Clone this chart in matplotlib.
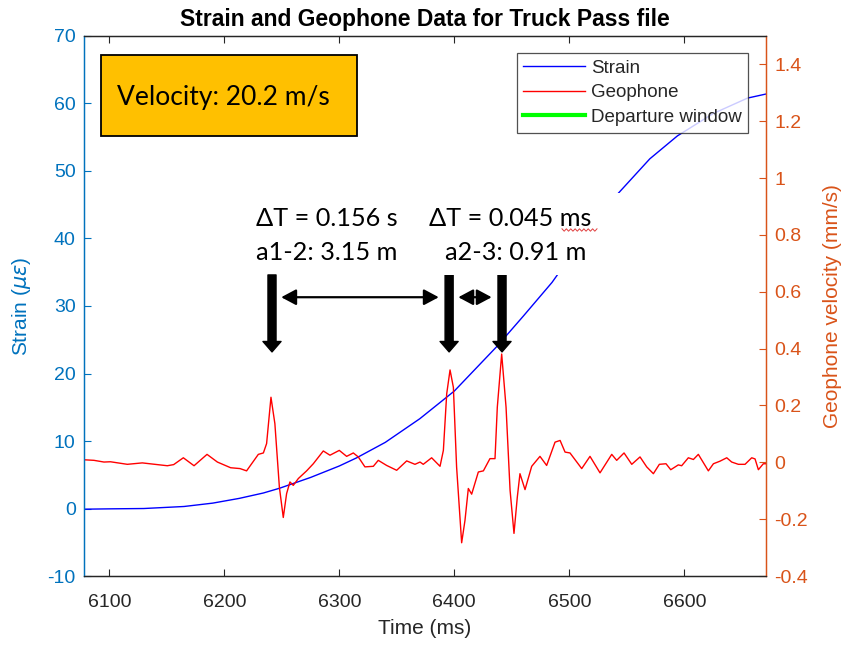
import matplotlib.pyplot as plt
from matplotlib.patches import Rectangle
from matplotlib.lines import Line2D
import numpy as np

# strain gauge (left axis)
strain_t = [6078, 6100, 6130, 6165, 6190, 6213, 6234, 6248, 6275, 6300, 6315,
            6340, 6370, 6400, 6437, 6460, 6485, 6510, 6541, 6570, 6594, 6625,
            6655, 6671]
strain_val = [-0.1, -0.05, 0.0, 0.3, 0.8, 1.5, 2.3, 3.0, 4.6, 6.3, 7.5,
              9.8, 13.3, 17.4, 24.0, 28.5, 33.5, 39.5, 46.4, 51.8, 55.2, 58.5,
              60.8, 61.4]

# geophone velocity (right axis)
geo_t = [6078, 6086.7, 6095.4, 6101, 6115.7, 6128.7, 6150.5, 6156, 6164.4, 6173.7,
         6185, 6194, 6205.5, 6213.7, 6219.4, 6229.6, 6234, 6236.8, 6240.6, 6244,
         6247.9, 6251.3, 6254.2, 6257.1, 6260, 6264.4, 6271.6, 6277.4, 6286.1,
         6291.9, 6300, 6306.4, 6312.2, 6316.5, 6322.3, 6329.6, 6333.9, 6341.2,
         6349.9, 6358.6, 6365.8, 6370.2, 6373, 6380.3, 6387.6, 6390.5, 6393.4,
         6396.3, 6399.2, 6402, 6406.4, 6409.3, 6412.2, 6415.1, 6420.9, 6425.3,
         6431, 6435.4, 6437.4, 6441.2, 6445, 6448.5, 6451.9, 6454.8, 6457.1,
         6461.5, 6467.3, 6474.5, 6480.3, 6487.6, 6492, 6496.3, 6500.6, 6510.8,
         6518, 6526.7, 6536.9, 6541.2, 6547.6, 6554.3, 6561.5, 6567.3, 6573.1,
         6578.3, 6584.1, 6588.2, 6594.8, 6597.7, 6603.5, 6607.9, 6612.2, 6620.9,
         6625.3, 6631, 6636.9, 6641.2, 6647, 6652.8, 6658.6, 6661.5, 6664.4,
         6668.7, 6671]
geo_val = [0.009, 0.007, 0.001, 0.002, -0.007, -0.002, -0.012, -0.008, 0.016, -0.012,
           0.028, 0.001, -0.019, -0.022, -0.030, 0.028, 0.033, 0.066, 0.229, 0.136,
           -0.087, -0.194, -0.110, -0.069, -0.081, -0.057, -0.030, -0.005, 0.040,
           0.025, 0.042, 0.021, 0.033, 0.019, -0.016, -0.014, 0.007, -0.011,
           -0.028, 0.005, -0.007, 0.001, -0.007, 0.016, -0.014, 0.042, 0.241,
           0.325, 0.264, -0.016, -0.283, -0.204, -0.092, -0.112, -0.034, -0.030,
           0.013, 0.013, 0.194, 0.381, 0.194, -0.098, -0.250, -0.122, -0.040,
           -0.096, -0.014, 0.021, -0.011, 0.071, 0.077, 0.036, 0.033, -0.022,
           0.021, -0.037, 0.028, 0.007, 0.033, -0.007, 0.019, -0.016, -0.040,
           -0.007, -0.005, -0.026, -0.009, -0.012, 0.016, 0.010, 0.028, -0.030,
           -0.005, 0.004, 0.016, 0.001, -0.007, -0.007, 0.016, 0.012, -0.026,
           -0.005, -0.005]

# axle arrival picks (ms) and annotation text
axle_t = [6241.5, 6395.5, 6441.5]
dt_labels = ["\u0394T = 0.156 s", "\u0394T = 0.045 ms"]
dist_labels = ["a1-2: 3.15 m", "a2-3: 0.91 m"]
velocity_label = "Velocity: 20.2 m/s"

left_c = "#0072BD"
right_c = "#D95319"
grey = "#262626"

plt.rcParams['font.family'] = ['Liberation Sans', 'DejaVu Sans']
plt.rcParams['axes.unicode_minus'] = False

fig = plt.figure(figsize=(8.49, 6.47), dpi=100)
ax = fig.add_axes([0.0989, 0.1097, 0.8033, 0.8347])
ax2 = ax.twinx()

l1, = ax.plot(strain_t, strain_val, color="#0000FF", lw=1.0, label="Strain")
l2, = ax2.plot(geo_t, geo_val, color="#FF0000", lw=1.0, label="Geophone")
l3, = ax2.plot([], [], color="#00FF00", lw=3, label="Departure window")

ax.set_xlim(6078, 6671)
ax.set_ylim(-10, 70)
ax2.set_ylim(-0.4, 1.5)

ax.set_xticks(np.arange(6100, 6700, 100))
ax.set_yticks(np.arange(-10, 80, 10))
r_ticks = np.arange(-0.4, 1.41, 0.2)
ax2.set_yticks(r_ticks)
ax2.set_yticklabels(["%g" % round(v, 1) for v in r_ticks])

ax.tick_params(axis='x', direction='in', top=True, length=5, width=0.8,
               colors=grey, labelsize=14, pad=13)
ax.tick_params(axis='y', direction='in', length=5, width=0.8, colors=left_c,
               labelsize=14, pad=6)
ax2.tick_params(axis='y', direction='in', length=5, width=0.8, colors=right_c,
                labelsize=14, pad=6)
for a in (ax, ax2):
    a.spines['top'].set_color(grey)
    a.spines['bottom'].set_color(grey)
    a.spines['left'].set_color(left_c)
    a.spines['right'].set_color(right_c)
    for s in a.spines.values():
        s.set_linewidth(0.9)

ax.set_xlabel("Time (ms)", fontsize=15, color=grey, labelpad=6)
ax.set_ylabel("Strain ($\\mu\\epsilon$)", fontsize=15, color=left_c, labelpad=10)
ax2.set_ylabel("Geophone velocity (mm/s)", fontsize=15, color=right_c, labelpad=11)
ax.set_title("Strain and Geophone Data for Truck Pass file", fontsize=16.5,
             fontweight='bold', pad=7)

leg = ax2.legend(handles=[l1, l2, l3], loc='upper right',
                 bbox_to_anchor=(748 / 849, 1 - 53 / 647),
                 bbox_transform=fig.transFigure, borderaxespad=0,
                 fontsize=13.5, handlelength=3.3, handletextpad=0.3,
                 labelspacing=0.4, borderpad=0.35, fancybox=False,
                 frameon=True, edgecolor=grey)
leg.get_frame().set_linewidth(0.9)
for t in leg.get_texts():
    t.set_color(grey)

# axle arrows
arrow_top, arrow_tip, span_y = 34.6, 23.2, 31.3
for t in axle_t:
    ax.annotate("", xy=(t, arrow_tip), xytext=(t, arrow_top),
                arrowprops=dict(arrowstyle="simple,head_length=0.75,head_width=1.3,tail_width=0.58",
                                color="black", shrinkA=0, shrinkB=0, mutation_scale=10),
                zorder=6)
for a, b in zip(axle_t[:-1], axle_t[1:]):
    ax.annotate("", xy=(a + 8, span_y), xytext=(b - 9, span_y),
                arrowprops=dict(arrowstyle="<|-|>,head_length=0.6,head_width=0.32",
                                color="black", lw=1.6, shrinkA=0, shrinkB=0,
                                mutation_scale=15),
                zorder=6)

# text boxes drawn over the plot
W, H = 849, 647
fig.add_artist(Rectangle((425 / W, 1 - 275 / H), 195 / W, 82 / H,
                         transform=fig.transFigure, facecolor='white',
                         edgecolor='none', zorder=3))
txt_font = ['Lato', 'DejaVu Sans']
fig.text(256 / W, 1 - 218 / H, dt_labels[0], fontsize=18.2, family=txt_font,
         va='center', ha='left', zorder=4)
fig.text(256 / W, 1 - 253 / H, dist_labels[0], fontsize=18.2, family=txt_font,
         va='center', ha='left', zorder=4)
fig.text(429 / W, 1 - 218 / H, dt_labels[1], fontsize=18.2, family=txt_font,
         va='center', ha='left', zorder=4)
fig.text(445 / W, 1 - 253 / H, dist_labels[1], fontsize=18.2, family=txt_font,
         va='center', ha='left', zorder=4)

# spell-check squiggle under "ms"
zx = np.linspace(562, 597, 17)
zy = 230 + np.where(np.arange(17) % 2 == 0, -1.2, 1.2)
fig.add_artist(Line2D(zx / W, 1 - zy / H, transform=fig.transFigure,
                      color='#E04040', lw=0.7, zorder=5))

fig.add_artist(Rectangle((101 / W, 1 - 136 / H), 256 / W, 81 / H,
                         transform=fig.transFigure, facecolor='#FFC000',
                         edgecolor='black', lw=1.3, zorder=3))
fig.text(117 / W, 1 - 98 / H, velocity_label, fontsize=19, family=txt_font,
         va='center', ha='left', zorder=4)

fig.savefig("out.png", dpi=100)
